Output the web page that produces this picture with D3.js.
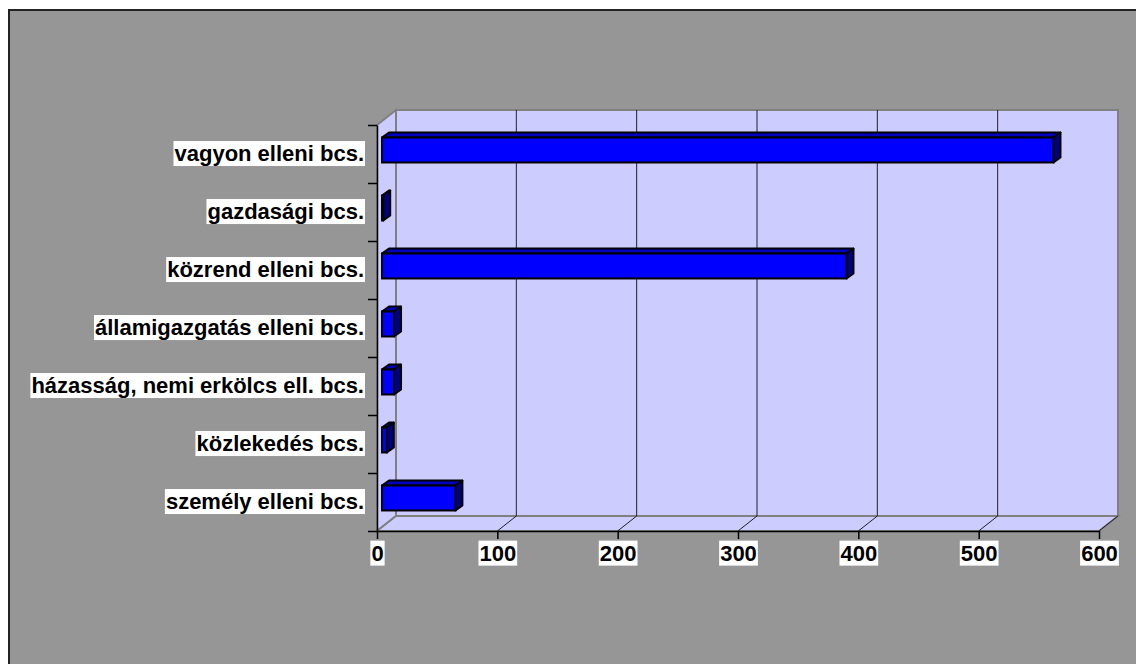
<!DOCTYPE html>
<html>
<head>
<meta charset="utf-8">
<script src="https://cdn.jsdelivr.net/npm/d3@7"></script>
<style>
  body { margin: 0; background: #fff; }
  text { font-family: "Liberation Sans", Arial, sans-serif; font-weight: bold; }
</style>
</head>
<body>
<svg width="1136" height="664"></svg>
<script>
// adatok
var categories = ["vagyon elleni bcs.", "gazdasági bcs.", "közrend elleni bcs.",
    "államigazgatás elleni bcs.", "házasság, nemi erkölcs ell. bcs.",
    "közlekedés bcs.", "személy elleni bcs."];
var values = [558, 1, 386, 10, 10, 4, 61];
var xTicks = [0, 100, 200, 300, 400, 500, 600];

var svg = d3.select("svg");

// grijze achtergrond van de grafiek
svg.append("rect")
    .attr("x", 9).attr("y", 10)
    .attr("width", 1140).attr("height", 670)
    .attr("fill", "#969696")
    .attr("stroke", "#222").attr("stroke-width", 2);

var pLeft = 377, pRight = 1099, pTop = 125, pBottom = 531;
var depth = { x: 19, y: -15 }; // diepte van de 3d doos

var x = d3.scaleLinear().domain([0, 600]).range([pLeft, pRight]);
var y = d3.scaleBand().domain(categories).range([pTop, pBottom]);
var yLin = d3.scaleLinear().domain([0, 7]).range([pTop, pBottom]);

function pts(a) { return a.map(function (p) { return p.join(","); }).join(" "); }

var g = svg.append("g");

// achterwand
g.append("polygon")
    .attr("points", pts([[pLeft + depth.x, pTop + depth.y], [pRight + depth.x, pTop + depth.y],
        [pRight + depth.x, pBottom + depth.y], [pLeft + depth.x, pBottom + depth.y]]))
    .attr("fill", "#ccccff").attr("stroke", "#808080").attr("stroke-width", 2);
// zijwand
g.append("polygon")
    .attr("points", pts([[pLeft, pTop], [pLeft + depth.x, pTop + depth.y],
        [pLeft + depth.x, pBottom + depth.y], [pLeft, pBottom]]))
    .attr("fill", "#ccccff").attr("stroke", "#808080").attr("stroke-width", 2);
// vloer
g.append("polygon")
    .attr("points", pts([[pLeft, pBottom], [pLeft + depth.x, pBottom + depth.y],
        [pRight + depth.x, pBottom + depth.y], [pRight, pBottom]]))
    .attr("fill", "#ccccff").attr("stroke", "#808080").attr("stroke-width", 2);

// rasterlijnen
g.selectAll(".grid")
    .data(xTicks.slice(1, -1))
    .enter().append("line")
    .attr("x1", function (d) { return x(d) + depth.x; })
    .attr("x2", function (d) { return x(d) + depth.x; })
    .attr("y1", pTop + depth.y)
    .attr("y2", pBottom + depth.y)
    .attr("stroke", "#222").attr("stroke-width", 1);
g.selectAll(".floor")
    .data(xTicks.slice(1))
    .enter().append("line")
    .attr("x1", function (d) { return x(d); })
    .attr("x2", function (d) { return x(d) + depth.x; })
    .attr("y1", pBottom)
    .attr("y2", pBottom + depth.y)
    .attr("stroke", "#222").attr("stroke-width", 1);

// staven
var f0 = { x: 5, y: -4 }, f1 = { x: 12, y: -9 };
var barH = y.bandwidth() * 0.43;
var bars = g.selectAll(".bar")
    .data(values)
    .enter().append("g")
    .attr("class", "bar");

bars.each(function (d, i) {
    var el = d3.select(this);
    var yc = y(categories[i]) + y.bandwidth() / 2;
    var x0 = x(0) + f0.x, x1 = x(d) + f0.x;
    var y0 = yc - barH / 2 + f0.y, y1 = yc + barH / 2 + f0.y;
    var dx = f1.x - f0.x, dy = f1.y - f0.y;
    el.append("polygon")
        .attr("points", pts([[x0, y0], [x1, y0], [x1 + dx, y0 + dy], [x0 + dx, y0 + dy]]))
        .attr("fill", "#0000c0").attr("stroke", "#000").attr("stroke-width", 2)
        .attr("stroke-linejoin", "round");
    el.append("polygon")
        .attr("points", pts([[x1, y0], [x1 + dx, y0 + dy], [x1 + dx, y1 + dy], [x1, y1]]))
        .attr("fill", "#000080").attr("stroke", "#000").attr("stroke-width", 2)
        .attr("stroke-linejoin", "round");
    el.append("rect")
        .attr("x", x0).attr("y", y0)
        .attr("width", x1 - x0).attr("height", y1 - y0)
        .attr("fill", "#0000ff").attr("stroke", "#000").attr("stroke-width", 2);
});

// x-as
var xAxis = svg.append("g")
    .attr("transform", "translate(0," + pBottom + ")")
    .call(d3.axisBottom(x).tickValues(xTicks).tickSize(8).tickPadding(6).tickSizeOuter(0));
xAxis.select(".domain").attr("stroke", "#000").attr("stroke-width", 1.5);
xAxis.selectAll(".tick line").attr("stroke", "#000").attr("stroke-width", 1.5);
xAxis.selectAll("text").attr("font-size", 22).attr("fill", "#000")
    .style("font-family", "Liberation Sans, Arial, sans-serif");

// y-as streepjes
var yAxis = svg.append("g")
    .attr("transform", "translate(" + pLeft + ",0)")
    .call(d3.axisLeft(yLin).ticks(7).tickSize(9).tickFormat("").tickSizeOuter(0));
yAxis.select(".domain").attr("stroke", "#000").attr("stroke-width", 1.5);
yAxis.selectAll(".tick line").attr("stroke", "#000").attr("stroke-width", 1.5);

// categorie labels
var yLabels = svg.append("g")
    .attr("transform", "translate(" + pLeft + ",0)")
    .call(d3.axisLeft(y).tickSize(0).tickPadding(13));
yLabels.select(".domain").remove();
yLabels.selectAll("text").attr("font-size", 22).attr("fill", "#000")
    .style("font-family", "Liberation Sans, Arial, sans-serif");

// witte achtergrond achter de teksten
[xAxis, yLabels].forEach(function (ax) {
    ax.selectAll(".tick").each(function () {
        var t = d3.select(this).select("text");
        var b = t.node().getBBox();
        d3.select(this).insert("rect", "text")
            .attr("x", b.x - 1).attr("y", b.y)
            .attr("width", b.width + 2).attr("height", b.height)
            .attr("fill", "#fff");
    });
});
</script>
</body>
</html>
